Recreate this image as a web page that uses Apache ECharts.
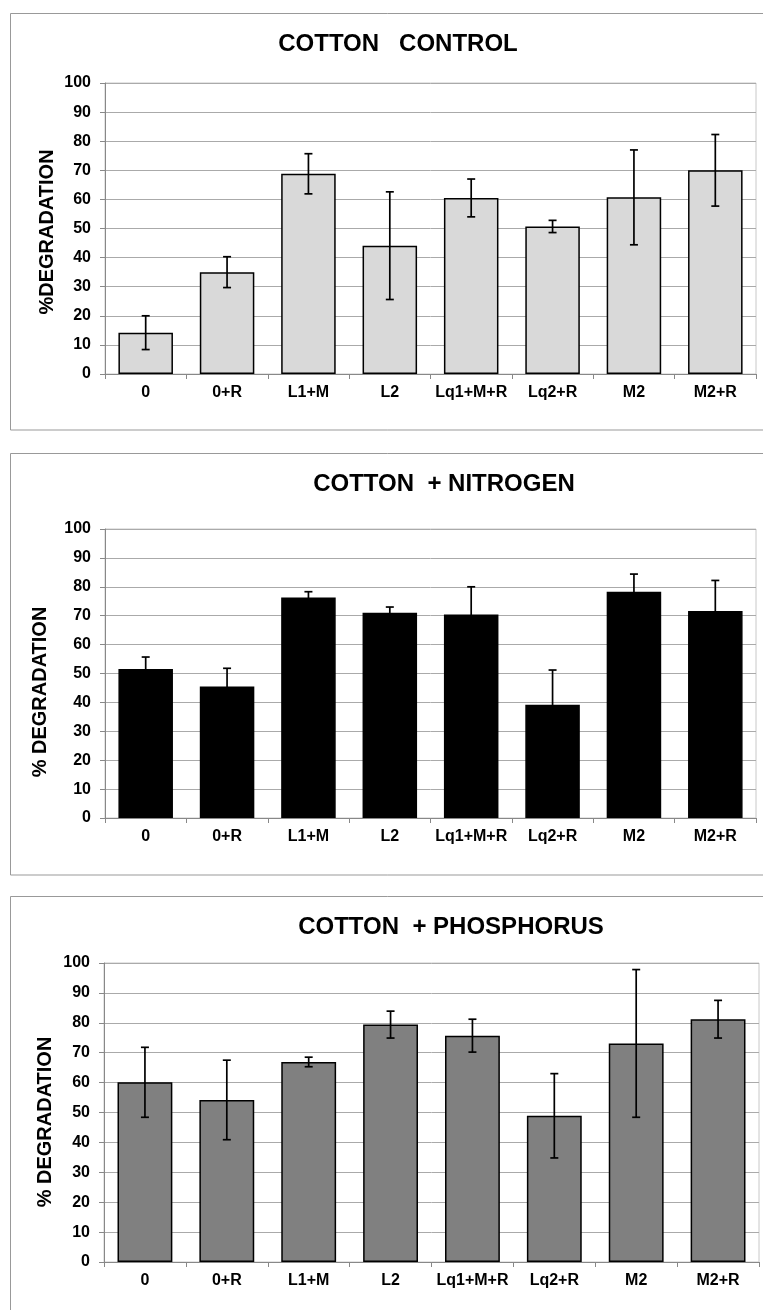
<!DOCTYPE html>
<html><head><meta charset="utf-8">
<script src="https://cdn.jsdelivr.net/npm/echarts@6/dist/echarts.min.js"></script>
<style>html,body{margin:0;padding:0;background:#fff}#c{width:763px;height:1310px}</style>
</head><body><div id="c"></div>
<script>
// ---- data ----
const categories = ['0', '0+R', 'L1+M', 'L2', 'Lq1+M+R', 'Lq2+R', 'M2', 'M2+R'];
const panelTitles = ['COTTON   CONTROL', 'COTTON  + NITROGEN', 'COTTON  + PHOSPHORUS'];
const yAxisTitles = ['%DEGRADATION', '% DEGRADATION', '% DEGRADATION'];
const controlMean = [14.2, 35.0, 68.8, 44.1, 60.5, 50.7, 60.7, 70.0];
const controlErr = [5.8, 5.3, 6.9, 18.5, 6.5, 2.1, 16.3, 12.3];
const nitrogenMean = [51.6, 45.5, 76.3, 71.0, 70.4, 39.2, 78.3, 71.6];
const nitrogenErr = [4.1, 6.3, 2.0, 2.0, 9.6, 12.0, 6.1, 10.6];
const phosphorusMean = [60.1, 54.2, 66.9, 79.4, 75.7, 48.9, 73.1, 81.2];
const phosphorusErr = [11.7, 13.3, 1.6, 4.5, 5.5, 14.1, 24.7, 6.3];
const yMin = 0, yMax = 100, yStep = 10;

// ---- layout / style ----
const FONT = '"Liberation Sans", Arial, sans-serif';
const panels = [
  { mean: controlMean, err: controlErr, fill: '#d9d9d9',
    grid: { left: 105, top: 83, width: 651, height: 291 },
    box: { x: 10.5, y: 13.5, h: 416.5 }, title: [398, 44.5], yname: [47, 232] },
  { mean: nitrogenMean, err: nitrogenErr, fill: '#000000',
    grid: { left: 105, top: 529, width: 651, height: 289 },
    box: { x: 10.5, y: 453.5, h: 421.5 }, title: [444, 484], yname: [40, 692] },
  { mean: phosphorusMean, err: phosphorusErr, fill: '#808080',
    grid: { left: 104, top: 963, width: 655, height: 299 },
    box: { x: 10.5, y: 896.5, h: 430 }, title: [451, 927], yname: [45, 1122] }
];

function renderErr(params, api) {
  const x = api.value(0), lo = api.value(1), hi = api.value(2);
  const a = api.coord([x, hi]), b = api.coord([x, lo]);
  const hw = 4, st = { stroke: '#000', lineWidth: 1.7 };
  return { type: 'group', children: [
    { type: 'line', shape: { x1: a[0], y1: a[1], x2: b[0], y2: b[1] }, style: st },
    { type: 'line', shape: { x1: a[0] - hw, y1: a[1], x2: a[0] + hw, y2: a[1] }, style: st },
    { type: 'line', shape: { x1: b[0] - hw, y1: b[1], x2: b[0] + hw, y2: b[1] }, style: st }
  ]};
}

const grids = [], xAxes = [], yAxes = [], series = [], graphics = [];
panels.forEach((p, i) => {
  grids.push(Object.assign({ show: true, borderColor: '#c8c8c8', borderWidth: 1, backgroundColor: 'transparent' }, p.grid));
  xAxes.push({
    type: 'category', gridIndex: i, data: categories,
    axisLine: { lineStyle: { color: '#888', width: 1 } },
    axisTick: { show: true, length: 5, interval: 0, lineStyle: { color: '#888' } },
    axisLabel: { interval: 0, color: '#000', fontWeight: 'bold', fontSize: 16, fontFamily: FONT, margin: 11 }
  });
  yAxes.push({
    type: 'value', gridIndex: i, min: yMin, max: yMax, interval: yStep,
    axisLine: { show: true, lineStyle: { color: '#888', width: 1 } },
    axisTick: { show: true, length: 5, lineStyle: { color: '#888' } },
    splitLine: { lineStyle: { color: '#aaaaaa', width: 1 } },
    axisLabel: { color: '#000', fontWeight: 'bold', fontSize: 16, fontFamily: FONT, margin: 14 }
  });
  series.push({
    type: 'bar', xAxisIndex: i, yAxisIndex: i, data: p.mean, barWidth: '67%',
    itemStyle: { color: p.fill, borderColor: '#000', borderWidth: 1.5 },
    emphasis: { disabled: true }, z: 2
  });
  series.push({
    type: 'custom', xAxisIndex: i, yAxisIndex: i, renderItem: renderErr, z: 5,
    encode: { x: 0, y: [1, 2] },
    data: p.mean.map((m, k) => [k, m - p.err[k], m + p.err[k]])
  });
  graphics.push({
    type: 'rect', shape: { x: p.box.x, y: p.box.y, width: 760, height: p.box.h },
    style: { fill: 'none', stroke: '#999', lineWidth: 1 }, silent: true, z: -10
  });
  graphics.push({
    type: 'text', x: p.title[0], y: p.title[1],
    style: { text: panelTitles[i], font: 'bold 24px ' + FONT, fill: '#000', align: 'center', verticalAlign: 'middle' }
  });
  graphics.push({
    type: 'text', x: p.yname[0], y: p.yname[1], rotation: Math.PI / 2,
    style: { text: yAxisTitles[i], font: 'bold 20px ' + FONT, fill: '#000', align: 'center', verticalAlign: 'middle' }
  });
});

const chart = echarts.init(document.getElementById('c'), null, { renderer: 'canvas' });
chart.setOption({
  animation: false,
  backgroundColor: '#fff',
  grid: grids, xAxis: xAxes, yAxis: yAxes, series: series,
  graphic: graphics
});
</script>
</body></html>
